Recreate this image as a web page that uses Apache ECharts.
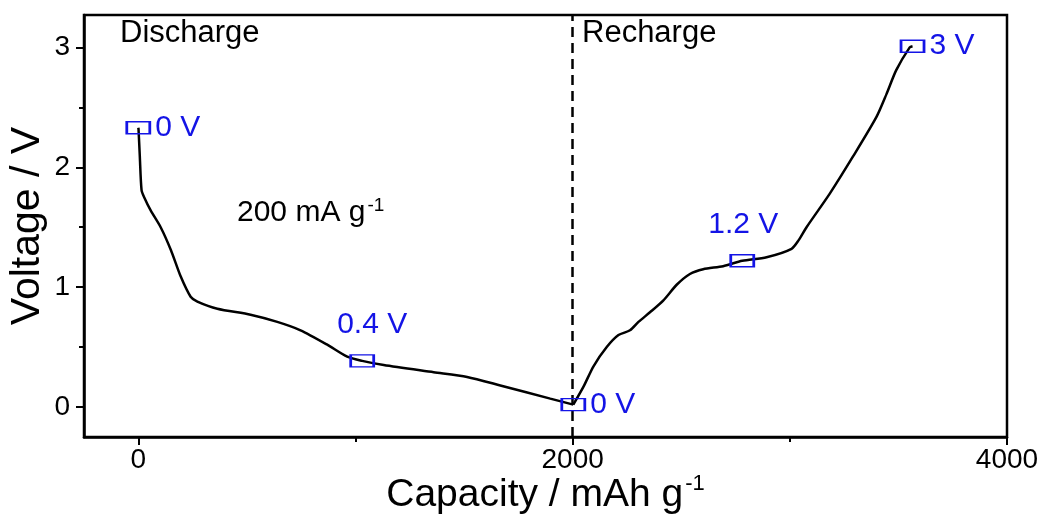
<!DOCTYPE html>
<html>
<head>
<meta charset="utf-8">
<script src="https://cdn.jsdelivr.net/npm/echarts@6/dist/echarts.min.js"></script>
<style>
  html, body { margin: 0; padding: 0; background: #fff; }
  #chart { width: 1044px; height: 517px; }
</style>
</head>
<body>
<div id="chart"></div>
<script>
// discharge curve, capacity (mAh/g) vs voltage (V)
const dischargeCap = [0, 1, 7, 15, 27, 57, 103, 150, 195, 241, 272, 364, 517, 640, 747, 870, 962, 1031, 1130, 1360, 1514, 1667, 1897, 2003]
const dischargeV = [2.33, 2.32, 2.09, 1.81, 1.75, 1.64, 1.50, 1.31, 1.09, 0.92, 0.88, 0.82, 0.77, 0.71, 0.64, 0.52, 0.42, 0.385, 0.35, 0.29, 0.25, 0.18, 0.07, 0.02]

// recharge curve
const rechargeCap = [2003, 2050, 2096, 2157, 2211, 2264, 2303, 2356, 2418, 2479, 2540, 2601, 2693, 2781, 2893, 3008, 3040, 3077, 3184, 3291, 3399, 3445, 3490, 3552, 3565]
const rechargeV = [0.02, 0.17, 0.34, 0.50, 0.60, 0.64, 0.71, 0.79, 0.89, 1.02, 1.11, 1.15, 1.175, 1.22, 1.25, 1.32, 1.39, 1.50, 1.78, 2.09, 2.42, 2.61, 2.81, 3.0, 3.01]

// boxed sample points
const markCap = [0, 1031, 2003, 2781, 3565]
const markV = [2.33, 0.385, 0.02, 1.22, 3.01]
const markText = ['0 V', '0.4 V', '0 V', '1.2 V', '3 V']

const xMajor = [0, 2000, 4000]
const xMinor = [1000, 3000]
const yMajor = [0, 1, 2, 3]
const yMinor = [0.5, 1.5, 2.5]

const FONT = 'Liberation Sans, Arial, sans-serif'
const BLUE = '#1414e6'

// label placement for the boxed points
const markPos = ['right', 'top', 'right', 'top', 'right']
const markShift = [[0, 0], [10, 0], [0, 0], [1, 0], [0, 0]]

const zip = (a, b) => a.map((v, i) => [v, b[i]])

const chart = echarts.init(document.getElementById('chart'), null, { renderer: 'canvas' })

function xAxisDef(ticks, major) {
  return {
    type: 'value', min: -250, max: 4000, position: 'bottom',
    axisLine: { show: major, onZero: false, lineStyle: { color: '#000', width: 2.5 } },
    axisTick: { show: true, customValues: ticks, length: major ? 8 : 5, inside: false, lineStyle: { color: '#000', width: 2 } },
    axisLabel: { show: major, customValues: ticks, formatter: v => String(v), color: '#000', fontSize: 28, fontFamily: FONT, margin: 9 },
    splitLine: { show: false },
    name: major ? '{a|Capacity / mAh g}{s|-1}' : '',
    nameLocation: 'middle', nameGap: 36, nameMoveOverlap: false,
    nameTextStyle: {
      rich: {
        a: { fontSize: 39, fontFamily: FONT, color: '#000' },
        s: { fontSize: 22, fontFamily: FONT, color: '#000', verticalAlign: 'top', padding: [0, 0, 22, 2] }
      }
    }
  }
}

function yAxisDef(ticks, major) {
  return {
    type: 'value', min: -0.25, max: 3.27, position: 'left',
    axisLine: { show: major, onZero: false, lineStyle: { color: '#000', width: 2.5 } },
    axisTick: { show: true, customValues: ticks, length: major ? 8 : 5, lineStyle: { color: '#000', width: 2 } },
    axisLabel: { show: major, customValues: ticks, formatter: v => String(v), color: '#000', fontSize: 28, fontFamily: FONT, margin: 14 },
    splitLine: { show: false },
    name: major ? 'Voltage / V' : '',
    nameLocation: 'middle', nameGap: 36, nameMoveOverlap: false,
    nameTextStyle: { fontSize: 41, fontFamily: FONT, color: '#000' }
  }
}

const option = {
  animation: false,
  backgroundColor: '#fff',
  grid: {
    left: 84, right: 37, top: 15, bottom: 80, containLabel: false, outerBoundsMode: 'none',
    show: true, borderColor: '#000', borderWidth: 2.5, backgroundColor: 'transparent'
  },
  xAxis: [xAxisDef(xMajor, true), xAxisDef(xMinor, false)],
  yAxis: [yAxisDef(yMajor, true), yAxisDef(yMinor, false)],
  graphic: [
    { type: 'text', left: 120, top: 18, style: { text: 'Discharge', fontSize: 31, fontFamily: FONT, fill: '#000' } },
    { type: 'text', left: 582, top: 18, style: { text: 'Recharge', fontSize: 31, fontFamily: FONT, fill: '#000' } },
    {
      type: 'text', left: 237, top: 196,
      style: {
        text: '{a|200 mA g}{s|-1}',
        rich: {
          a: { fontSize: 30, fontFamily: FONT, fill: '#000' },
          s: { fontSize: 19, fontFamily: FONT, fill: '#000', verticalAlign: 'top', padding: [0, 0, 15, 2] }
        }
      }
    }
  ],
  series: [
    {
      type: 'line', name: 'Discharge', data: zip(dischargeCap, dischargeV),
      showSymbol: false, smooth: 0.25, lineStyle: { color: '#000', width: 2.5 },
      markLine: {
        silent: true, symbol: ['none', 'none'], label: { show: false },
        lineStyle: { color: '#000', width: 2.5, type: [10, 6] },
        data: [{ xAxis: 2000 }]
      }
    },
    {
      type: 'line', name: 'Recharge', data: zip(rechargeCap, rechargeV),
      showSymbol: false, smooth: 0.25, lineStyle: { color: '#000', width: 2.5 }
    },
    {
      type: 'scatter', name: 'marks', z: 5,
      data: markCap.map((c, i) => ({
        value: [c, markV[i]],
        label: {
          show: true, formatter: markText[i], position: markPos[i],
          distance: markPos[i] === 'top' ? 14 : 4,
          offset: markShift[i],
          color: BLUE, fontSize: 30, fontFamily: FONT
        }
      })),
      symbol: 'rect', symbolSize: [23, 12],
      itemStyle: { color: 'rgba(0,0,0,0)', borderColor: BLUE, borderWidth: 2, opacity: 1 }
    }
  ]
}

chart.setOption(option)
</script>
</body>
</html>
